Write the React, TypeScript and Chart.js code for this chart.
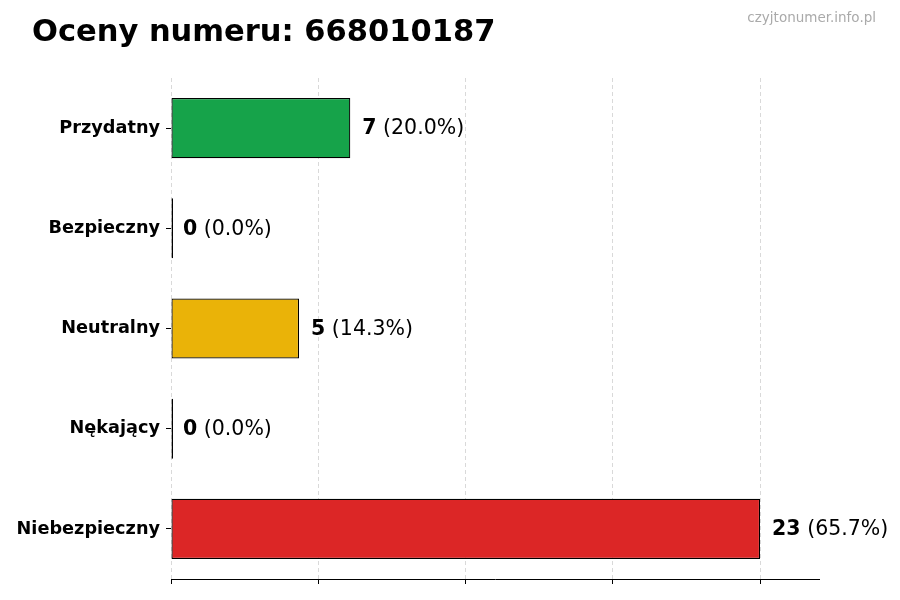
import React, { useEffect, useRef } from "react";
import { Chart, registerables } from "chart.js";

Chart.register(...registerables);

const categories = ["Przydatny", "Bezpieczny", "Neutralny", "Nękający", "Niebezpieczny"];
const counts = [7, 0, 5, 0, 23];
const barColors = ["#16a34a", "#16a34a", "#eab308", "#eab308", "#dc2626"];
const xTickValues = [0, 5.75, 11.5, 17.25, 23];
const xMax = 25.3;
const titleText = "Oceny numeru: 668010187";
const watermarkText = "czyjtonumer.info.pl";

const FONT = "'DejaVu Sans', sans-serif";

export default function App() {
  const ref = useRef<HTMLCanvasElement | null>(null);

  useEffect(() => {
    if (!ref.current) return;
    const total = counts.reduce((a, b) => a + b, 0);

    const labelsPlugin = {
      id: "valueLabels",
      afterDatasetsDraw(chart: any) {
        const ctx = chart.ctx;
        const meta = chart.getDatasetMeta(0);
        ctx.save();
        ctx.textBaseline = "middle";
        ctx.fillStyle = "#000";
        meta.data.forEach((bar: any, i: number) => {
          const v = counts[i];
          const x0 = chart.scales.x.getPixelForValue(v) + 12;
          const y = bar.y + 1;
          ctx.font = `bold 20.5px ${FONT}`;
          const num = String(v);
          ctx.fillText(num, x0, y);
          const w = ctx.measureText(num).width;
          ctx.font = `20.5px ${FONT}`;
          const pct = total ? ((v / total) * 100).toFixed(1) : "0.0";
          ctx.fillText(` (${pct}%)`, x0 + w, y);
        });
        ctx.restore();
      },
      afterDraw(chart: any) {
        const ctx = chart.ctx;
        ctx.save();
        ctx.textBaseline = "alphabetic";
        ctx.fillStyle = "#000";
        ctx.font = `bold 30.5px ${FONT}`;
        ctx.textAlign = "left";
        ctx.fillText(titleText, 32, 41);
        ctx.fillStyle = "#aaaaaa";
        ctx.font = `13.5px ${FONT}`;
        ctx.textAlign = "right";
        ctx.fillText(watermarkText, 876, 22);
        ctx.restore();
      },
    };

    const chart = new Chart(ref.current, {
      type: "bar",
      data: {
        labels: categories,
        datasets: [
          {
            data: counts,
            backgroundColor: (c: any) =>
              counts[c.dataIndex] === 0 ? "#000" : barColors[c.dataIndex],
            borderColor: "#000",
            borderWidth: 1.2,
            borderSkipped: false,
            barPercentage: 0.6,
            categoryPercentage: 1,
            minBarLength: 2,
          },
        ],
      },
      options: {
        indexAxis: "y",
        animation: false,
        responsive: false,
        maintainAspectRatio: false,
        devicePixelRatio: 1,
        layout: { padding: { left: 0, top: 78, right: 81, bottom: 0 } },
        plugins: {
          legend: { display: false },
          title: { display: false },
          tooltip: { enabled: false },
        },
        scales: {
          x: {
            type: "linear",
            min: 0,
            max: xMax,
            z: 1,
            afterBuildTicks: (scale: any) => {
              scale.ticks = xTickValues.map((v) => ({ value: v }));
            },
            afterFit: (scale: any) => {
              scale.height = 21;
            },
            ticks: { display: false },
            grid: {
              color: "#d9d9d9",
              lineWidth: 1,
              drawTicks: true,
              tickLength: 5,
              tickColor: "#000",
              tickWidth: 1,
              tickBorderDash: [],
            },
            border: { display: true, color: "#000", width: 1, dash: [4, 3] },
          },
          y: {
            type: "category",
            afterFit: (scale: any) => {
              scale.width = 171;
            },
            ticks: {
              color: "#000",
              padding: 6,
              font: { family: FONT, size: 17.7, weight: "bold" },
            },
            grid: {
              offset: false,
              drawOnChartArea: false,
              drawTicks: true,
              tickLength: 5,
              tickColor: "#000",
              tickWidth: 1,
            },
            border: { display: false },
          },
        },
      },
      plugins: [labelsPlugin],
    } as any);

    return () => chart.destroy();
  }, []);

  return (
    <div style={{ position: "fixed", left: 0, top: 0, width: 900, height: 600, background: "#fff" }}>
      <canvas ref={ref} width={900} height={600} style={{ width: 900, height: 600, display: "block" }} />
    </div>
  );
}
